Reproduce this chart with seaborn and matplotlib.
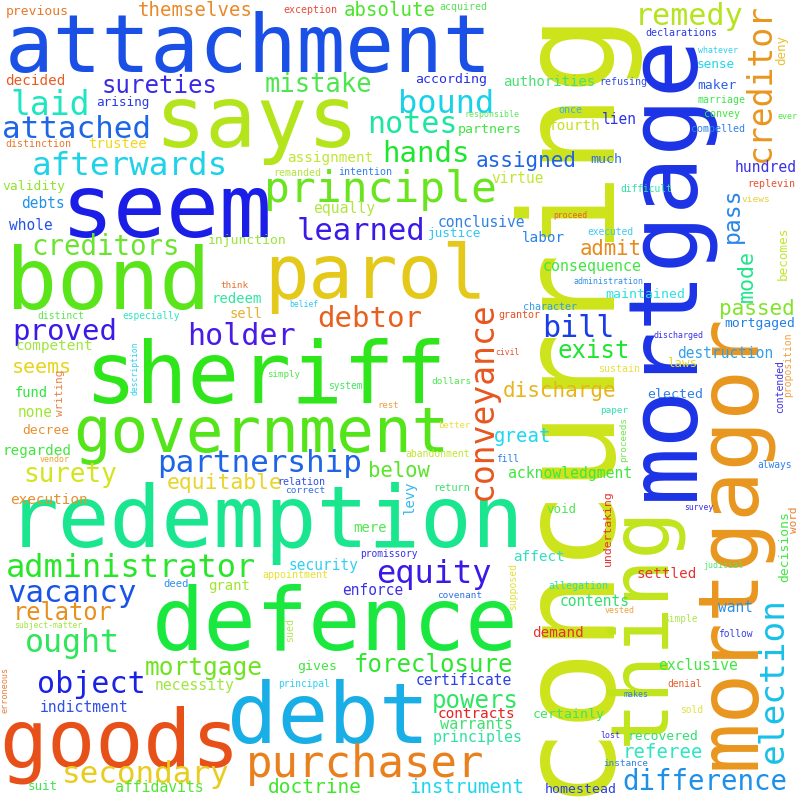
import matplotlib
matplotlib.use("Agg")
import matplotlib.pyplot as plt
import seaborn as sns
import pandas as pd

# word cloud data: words and their relative weights (font size in px of the cloud)
words = [
    "concurring", "mortgage", "seem", "defence", "sheriff", "redemption", "debt",
    "says", "bond", "mortgagor", "attachment", "goods", "thing", "parol", "government",
    "principle", "purchaser", "election", "creditor", "laid", "conveyance", "afterwards",
    "administrator", "equity", "bound", "ought", "partnership", "secondary", "attached",
    "learned", "vacancy", "remedy", "notes", "bill", "holder", "object", "hands", "debtor",
    "proved", "creditors", "difference", "surety", "mistake", "mortgage", "foreclosure",
    "powers", "exist", "sureties", "relator", "pass", "mode", "equitable", "assigned",
    "passed", "discharge", "admit", "below", "seems", "doctrine", "instrument", "great",
    "referee", "themselves", "absolute",
    "consequence", "principles", "warrants", "acknowledgment", "necessity", "exclusive",
    "affidavits", "indictment", "equally", "hundred", "conclusive",
    "contents", "competent", "none", "virtue", "debts", "whole", "destruction", "lien",
    "enforce", "security", "want", "certificate", "execution", "assignment", "fourth",
    "contracts", "settled", "trustee", "redeem", "affect", "demand", "regarded",
    "labor", "decided", "sell", "fund", "mere", "levy", "authorities",
    "maintained", "according", "partners", "much", "certainly", "homestead", "gives",
    "grant", "validity", "maker", "previous", "decree", "recovered", "mortgaged", "elected",
    "justice", "arising", "becomes", "laws", "suit", "void", "decisions", "sense",
    "injunction", "undertaking", "writing", "word", "deny", "deed", "return", "distinction",
    "exception", "acquired", "remanded", "intention", "declarations", "refusing",
    "marriage", "once", "convey", "compelled", "replevin", "character", "grantor",
    "sustain", "relation", "appointment", "allegation", "sued", "distinct", "especially",
    "supposed", "proposition", "contended", "abandonment", "difficult", "executed",
    "system", "simple", "follow", "denial", "sold", "always", "promissory", "principal",
    "dollars", "fill", "correct", "views", "paper", "proceeds", "covenant", "instance",
    "rest", "better", "think", "erroneous", "responsible", "whatever", "ever",
    "administration", "discharged", "judicial", "vested", "makes", "lost", "vendor",
    "subject-matter", "simply", "survey", "proceed", "belief", "description", "civil",
]
weights = [
    132, 97, 88, 87, 86, 86, 84,
    85, 85, 84, 81, 80, 80, 74, 62.5,
    43, 44, 34.5, 33, 33, 33, 32.5,
    32, 32, 32, 31.6, 31, 31, 31,
    30.5, 30.6, 30, 30, 30, 30, 30, 29, 29,
    29, 27.5, 27.5, 26, 25.5, 24.5, 24,
    24, 24, 24, 23.7, 23, 21.6, 21.4, 21,
    21, 21, 20.6, 20.6, 20, 19.5, 19, 19,
    19, 19, 19,
    15, 15, 15.2, 14.8, 14.8, 14.8,
    14.7, 14.7, 14.7, 14.7, 14.6,
    14.6, 14.4, 14.5, 14.5, 14.5, 14.5, 14.5, 14.5,
    14.5, 14.5, 14.5, 14.6, 14.4, 14.3, 14.4,
    14.4, 14.3, 14, 14, 14.4, 14.2, 14.3,
    14.3, 14.3, 13.8, 13.7, 14, 14, 14,
    13.3, 13.3, 13.3, 13.3, 13.3, 13.3, 13.3,
    14, 13, 13, 13, 13, 13, 13, 13.3,
    12.8, 12.6, 12.6, 12.5, 12.5, 12.5, 13, 12.7,
    13, 11.5, 11, 11, 12.5, 10.5, 10.3, 10,
    10, 10, 10, 10, 10, 10,
    10, 10, 10, 10, 10, 10, 10,
    10, 10, 10, 10, 10, 9.8, 9.7,
    9.8, 9.8, 9.8, 9.8, 9.7, 9.6,
    9.7, 9.7, 9.7, 9.7, 9.7, 9.7, 9.7, 9.6,
    9.5, 9.6, 9.5, 9.5, 9.4, 9.4, 9.4, 9.4,
    9, 9, 9.3, 8.5, 8.3, 8.3, 8.3,
    8.3, 8.3, 8.3, 8.3, 8.3, 8.3, 8.3,
    8.2, 9.2, 8, 8, 8, 8, 8,
]

# layout of the cloud: (x, y, rotated) in pixels of the 800x800 canvas
# horizontal words: x = centre, y = baseline; rotated words: x = baseline, y = centre
layout = {
    "concurring": (602, 398, 1), "mortgage": (693, 267, 1), "seem": (167, 237, 0),
    "defence": (335, 650, 0), "sheriff": (265, 403, 0), "redemption": (265, 547, 0),
    "debt": (328, 743, 0), "says": (256, 147, 0), "bond": (108, 309, 0),
    "mortgagor": (754, 541, 1), "attachment": (248, 72, 0), "goods": (120, 767, 0),
    "thing": (663, 625, 1), "parol": (375, 298, 0), "government": (261, 452, 0),
    "principle": (380, 202, 0), "purchaser": (365, 777, 0), "election": (783, 680, 1),
    "creditor": (770, 82, 1), "laid": (50, 115, 0), "conveyance": (492, 401, 1),
    "afterwards": (130, 175, 0), "administrator": (131, 577, 0), "equity": (434, 583, 0),
    "bound": (446, 113, 0), "ought": (72, 652, 0), "partnership": (260, 472, 0),
    "secondary": (146, 783, 0), "attached": (77, 138, 0), "learned": (361, 240, 0),
    "vacancy": (72, 602, 0), "remedy": (689, 25, 0), "notes": (412, 133, 0),
    "bill": (578, 337, 0), "holder": (242, 345, 0), "object": (91, 693, 0),
    "hands": (426, 162, 0), "debtor": (370, 327, 0), "proved": (65, 340, 0),
    "creditors": (106, 255, 0), "difference": (705, 790, 0), "surety": (70, 482, 0),
    "mistake": (318, 92, 0), "mortgage_h": (204, 675, 0), "foreclosure": (433, 672, 0),
    "powers": (475, 708, 0), "exist": (594, 358, 0), "sureties": (160, 93, 0),
    "relator": (63, 620, 0), "pass": (739, 215, 1), "mode": (753, 276, 1),
    "equitable": (225, 489, 0), "assigned": (526, 167, 0), "passed": (757, 315, 0),
    "discharge": (560, 397, 0), "admit": (611, 255, 0), "below": (399, 477, 0),
    "seems": (42, 373, 0), "doctrine": (315, 793, 0), "instrument": (467, 793, 0),
    "great": (523, 442, 0), "referee": (663, 758, 0), "themselves": (195, 16, 0),
    "absolute": (390, 16, 0),
    "consequence": (592, 271, 0), "principles": (478, 742, 0), "warrants": (477, 729, 0),
    "acknowledgment": (570, 478, 0), "necessity": (195, 690, 0), "exclusive": (698, 670, 0),
    "affidavits": (159, 792, 0), "indictment": (84, 712, 0), "equally": (344, 213, 0),
    "hundred": (766, 172, 0), "conclusive": (481, 227, 0), "contents": (595, 606, 0),
    "competent": (54, 350, 0), "none": (35, 417, 0), "virtue": (518, 183, 0),
    "debts": (43, 208, 0), "whole": (31, 230, 0), "destruction": (725, 358, 0),
    "lien": (619, 124, 0), "enforce": (373, 595, 0), "security": (323, 570, 0),
    "want": (735, 612, 0), "certificate": (464, 685, 0), "execution": (49, 504, 0),
    "assignment": (330, 162, 0), "fourth": (575, 130, 0), "contracts": (476, 718, 0),
    "settled": (667, 578, 0), "trustee": (117, 148, 0), "redeem": (237, 303, 0),
    "affect": (539, 561, 0), "demand": (558, 637, 0), "regarded": (37, 455, 0),
    "labor": (543, 242, 0), "decided": (35, 85, 0), "sell": (246, 318, 0),
    "fund": (31, 397, 0), "mere": (370, 532, 0), "levy": (414, 497, 1),
    "authorities": (549, 86, 0), "maintained": (645, 298, 0), "according": (451, 83, 0),
    "partners": (490, 133, 0), "much": (606, 163, 0), "certainly": (569, 718, 0),
    "homestead": (581, 793, 0), "gives": (317, 670, 0), "grant": (229, 590, 0),
    "validity": (34, 190, 0), "maker": (717, 89, 0), "previous": (37, 15, 0),
    "decree": (46, 434, 0), "recovered": (663, 740, 0), "mortgaged": (760, 327, 0),
    "elected": (675, 398, 0), "justice": (455, 237, 0), "arising": (123, 106, 0),
    "becomes": (787, 253, 1), "laws": (682, 367, 0), "suit": (43, 790, 0),
    "void": (561, 513, 0), "decisions": (788, 547, 1), "sense": (716, 68, 0),
    "injunction": (247, 244, 0), "undertaking": (611, 528, 1), "writing": (63, 393, 1),
    "word": (797, 520, 1), "deny": (785, 50, 1), "deed": (176, 587, 0),
    "return": (452, 491, 0), "distinction": (38, 147, 0), "exception": (310, 13, 0),
    "acquired": (463, 10, 0), "remanded": (297, 176, 0), "intention": (365, 175, 0),
    "declarations": (681, 36, 0), "refusing": (623, 85, 0), "marriage": (722, 103, 0),
    "once": (570, 113, 0), "convey": (722, 117, 0), "compelled": (718, 132, 0),
    "replevin": (771, 187, 0), "character": (550, 310, 0), "grantor": (519, 318, 0),
    "sustain": (619, 372, 0), "relation": (301, 485, 0), "appointment": (295, 578, 0),
    "allegation": (578, 589, 0), "sued": (293, 630, 1), "distinct": (61, 319, 0),
    "especially": (151, 319, 0), "supposed": (516, 586, 1), "proposition": (791, 365, 1),
    "contended": (783, 387, 1), "abandonment": (438, 457, 0), "difficult": (646, 192, 0),
    "executed": (610, 235, 0), "system": (345, 389, 0), "simple": (680, 622, 0),
    "follow": (735, 637, 0), "denial": (685, 687, 0), "sold": (692, 713, 0),
    "always": (775, 468, 0), "promissory": (389, 557, 0), "principal": (304, 687, 0),
    "dollars": (452, 384, 0), "fill": (508, 462, 0), "correct": (305, 493, 0),
    "views": (756, 202, 0), "paper": (614, 413, 0), "proceeds": (626, 440, 1),
    "covenant": (460, 598, 0), "instance": (626, 766, 0), "rest": (388, 408, 0),
    "better": (454, 428, 0), "think": (234, 288, 0), "erroneous": (8, 690, 1),
    "responsible": (492, 117, 0), "whatever": (718, 53, 0), "ever": (787, 119, 0),
    "administration": (608, 284, 0), "discharged": (678, 338, 0), "judicial": (723, 568, 0),
    "vested": (620, 613, 0), "makes": (636, 697, 0), "lost": (610, 738, 0),
    "vendor": (55, 462, 0), "subject-matter": (48, 628, 0), "simply": (284, 377, 0),
    "survey": (699, 510, 0), "proceed": (570, 218, 0), "belief": (304, 307, 0),
    "description": (138, 368, 1), "civil": (507, 355, 0),
}

colors = {
    "concurring": "#cde31a", "mortgage": "#1c33e6", "seem": "#1a1ee6", "defence": "#1ae83e",
    "sheriff": "#2ee61a", "redemption": "#1ae690", "debt": "#1aaee6", "says": "#b4e41c",
    "bond": "#5ae41a", "mortgagor": "#e8961e", "attachment": "#1a50e6", "goods": "#e8501a",
    "thing": "#c0e41c", "parol": "#e4c81a", "government": "#54e41a", "principle": "#6ae41e",
    "purchaser": "#e8801e", "election": "#18c0e8", "creditor": "#e8961e", "laid": "#1ee6c0",
    "conveyance": "#e8561e", "afterwards": "#1ed2e8", "administrator": "#2ae62a",
    "equity": "#3a1ae6", "bound": "#18d2e8", "ought": "#2ee65a", "partnership": "#1e64e6",
    "secondary": "#e8cc1e", "attached": "#1e66e6", "learned": "#3a1ae6", "vacancy": "#1a54e6",
    "remedy": "#b4e41e", "notes": "#1ee6a0", "bill": "#1a3ee6", "holder": "#4a1ae6",
    "object": "#1a22e6", "hands": "#1ee62e", "debtor": "#e8601e", "proved": "#3a1ae6",
    "creditors": "#6ae42e", "difference": "#1e90e8", "surety": "#d4e41e", "mistake": "#4ee64e",
    "mortgage_h": "#6ee41e", "foreclosure": "#2ee62e", "powers": "#2ee664", "exist": "#1ee62e",
    "sureties": "#3a2ae6", "relator": "#e8901e", "pass": "#2a86e8", "mode": "#1ee68a",
    "equitable": "#e8d42a", "assigned": "#1e64e6", "passed": "#82e42a", "discharge": "#e8b41e",
    "admit": "#e88a1e", "below": "#5ae42a", "seems": "#e8d41e", "doctrine": "#3ee62a",
    "instrument": "#1ed6f0", "great": "#1ed8f0", "referee": "#2ee6c0", "themselves": "#e88a2a",
    "absolute": "#4ae62a", "consequence": "#40e640", "principles": "#30e0a0",
    "warrants": "#40e070", "acknowledgment": "#40e640", "necessity": "#a0e640",
    "exclusive": "#40e640", "affidavits": "#50e630", "indictment": "#3050e8",
    "equally": "#b0e640", "hundred": "#3a30e6", "conclusive": "#3080e8", "contents": "#30e070",
    "competent": "#a0e640", "none": "#a0e630", "virtue": "#c0e630", "debts": "#2090e8",
    "whole": "#2050e6", "destruction": "#30a0e8", "lien": "#2a30e8", "enforce": "#3a30e6",
    "security": "#30d0f0", "want": "#2a90e8", "certificate": "#2a40e6", "execution": "#e89030",
    "assignment": "#c0e630", "fourth": "#c8e020", "contracts": "#e82020", "settled": "#e83030",
    "trustee": "#f0d820", "redeem": "#30e6a0", "affect": "#30e0c0", "demand": "#e83030",
    "regarded": "#40e640", "labor": "#2a80e8", "decided": "#e85a20", "sell": "#e8b030",
    "fund": "#30e640", "mere": "#50e650", "levy": "#30b8f0", "authorities": "#48e070",
    "maintained": "#30e0e0", "according": "#2a30e6", "partners": "#40e640", "much": "#3070e6",
    "certainly": "#40e660", "homestead": "#2a40e6", "gives": "#40e640", "grant": "#a0e630",
    "validity": "#90e430", "maker": "#2a60e6", "previous": "#e8782a", "decree": "#e89030",
    "recovered": "#30e070", "mortgaged": "#2080e8", "elected": "#3080e8", "justice": "#30c8f0",
    "arising": "#2a3ae6", "becomes": "#c0e630", "laws": "#e0e030", "suit": "#40e650",
    "void": "#50e650", "decisions": "#40e640", "sense": "#20d8e8", "injunction": "#96e63a",
    "undertaking": "#e83030", "writing": "#e88040", "word": "#e88030", "deny": "#e8c030",
    "deed": "#3090e8", "return": "#40e070", "distinction": "#e87a30", "exception": "#e84a3a",
    "acquired": "#5ae05a", "remanded": "#b0e640", "intention": "#3080e8",
    "declarations": "#2a3ae6", "refusing": "#3050e6", "marriage": "#40e650", "once": "#38b0f0",
    "convey": "#40e640", "compelled": "#3080e8", "replevin": "#e85030", "character": "#30a0e8",
    "grantor": "#e85020", "sustain": "#e8e040", "relation": "#3050e8", "appointment": "#e8e030",
    "allegation": "#30e0b0", "sued": "#b0e650", "distinct": "#60e650", "especially": "#30e6c0",
    "supposed": "#e0e040", "proposition": "#f0a040", "contended": "#3a30e6",
    "abandonment": "#c0e630", "difficult": "#30e0a0", "executed": "#40c8f0", "system": "#40e660",
    "simple": "#b0e650", "follow": "#3a40e6", "denial": "#e86030", "sold": "#e0e040",
    "always": "#3080e8", "promissory": "#3a30e6", "principal": "#30d0f0", "dollars": "#50e650",
    "fill": "#3080e8", "correct": "#3070e8", "views": "#e8d040", "paper": "#30e0b0",
    "proceeds": "#70e650", "covenant": "#3070e8", "instance": "#3080e8", "rest": "#f0a040",
    "better": "#e8e040", "think": "#e8702e", "erroneous": "#e88040", "responsible": "#60e660",
    "whatever": "#30d0f0", "ever": "#50e640", "administration": "#3090e8",
    "discharged": "#3a30e6", "judicial": "#50e670", "vested": "#f0a040", "makes": "#3080e8",
    "lost": "#4a30e6", "vendor": "#f0a030", "subject-matter": "#a0e640", "simply": "#50e650",
    "survey": "#3a30e6", "proceed": "#e86030", "belief": "#30c8f0", "description": "#30d2f0",
    "civil": "#e85030",
}

# table of the cloud; the second "mortgage" is the small horizontal one
keys = []
seen = set()
for w in words:
    keys.append(w + "_h" if w in seen else w)
    seen.add(w)
df = pd.DataFrame({"key": keys, "word": words, "weight": weights})

sns.set_theme(style="white")
plt.rcParams["font.family"] = ["DejaVu Sans Mono", "DejaVu Sans"]

fig = plt.figure(figsize=(8, 8), dpi=100)
ax = fig.add_axes([0, 0, 1, 1])
ax.set_xlim(0, 800)
ax.set_ylim(800, 0)
ax.axis("off")

for _, row in df.iterrows():
    x, y, rot = layout[row["key"]]
    ax.text(x, y, row["word"], fontsize=row["weight"] * 0.72,
            color=colors[row["key"]], ha="center", va="baseline",
            rotation=90 if rot else 0, rotation_mode="anchor")

fig.savefig("out.png", dpi=100, facecolor="white")
